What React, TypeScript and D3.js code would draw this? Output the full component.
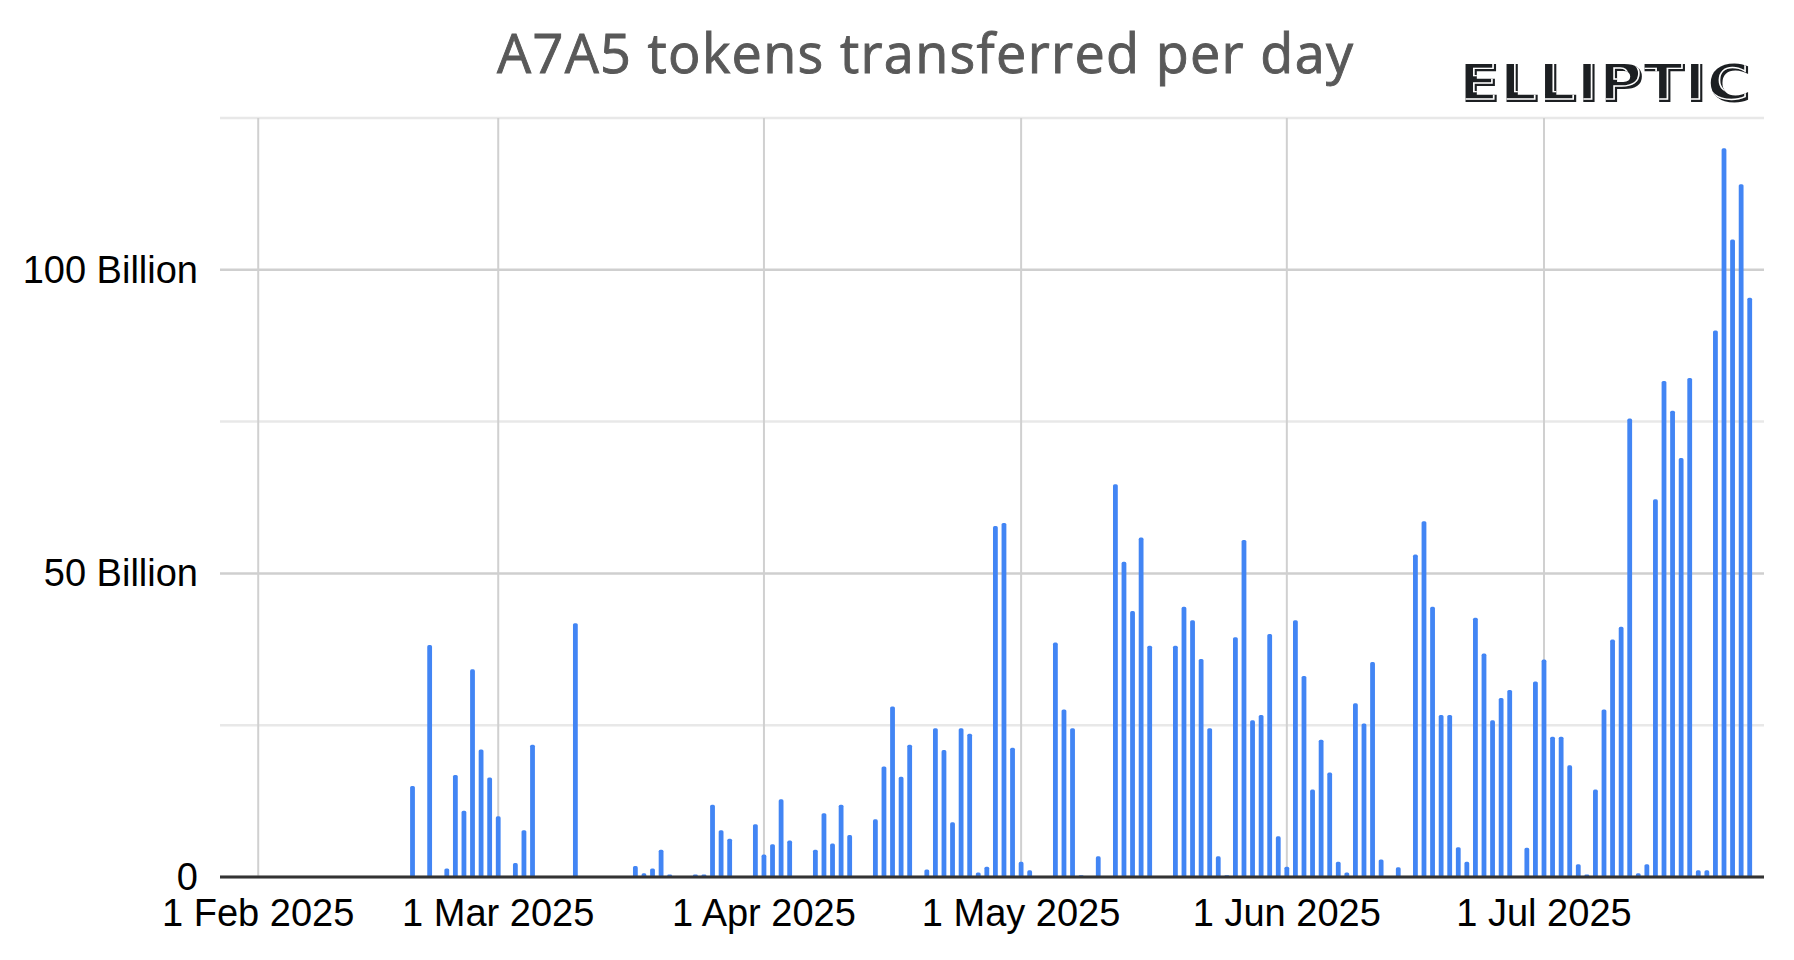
import * as d3 from 'd3'

// daily A7A5 transfers, billions of tokens (days with no bar are left out)
const febDays = [19, 21, 23, 24, 25, 26, 27, 28]
const febValues = [15.0, 38.2, 1.4, 16.8, 10.9, 34.2, 21.0, 16.4]
const marDays = [1, 3, 4, 5, 10, 17, 18, 19, 20, 21, 24, 25, 26, 27, 28, 31]
const marValues = [10.0, 2.3, 7.7, 21.8, 41.8, 1.8, 0.6, 1.4, 4.5, 0.4, 0.4, 0.4, 11.9, 7.7, 6.3, 8.7]
const aprDays = [1, 2, 3, 4, 7, 8, 9, 10, 11, 14, 15, 16, 17, 18, 20, 21, 22, 23, 24, 25, 26, 27, 28, 29, 30]
const aprValues = [3.7, 5.4, 12.8, 6.0, 4.5, 10.5, 5.5, 11.9, 6.9, 9.5, 18.2, 28.1, 16.5, 21.8, 1.25, 24.5, 20.9, 9.0, 24.5, 23.6, 0.75, 1.7, 57.8, 58.3, 21.3]
const mayDays = [1, 2, 5, 6, 7, 8, 10, 12, 13, 14, 15, 16, 19, 20, 21, 22, 23, 24, 25, 26, 27, 28, 29, 30, 31]
const mayValues = [2.5, 1.1, 38.6, 27.6, 24.5, 0.3, 3.4, 64.7, 51.9, 43.8, 55.9, 38.1, 38.1, 44.5, 42.3, 35.9, 24.5, 3.4, 0.3, 39.5, 55.5, 25.8, 26.7, 40.0, 6.7]
const junDays = [1, 2, 3, 4, 5, 6, 7, 8, 9, 10, 11, 12, 14, 16, 17, 18, 19, 20, 21, 22, 23, 24, 25, 26, 27, 29, 30]
const junValues = [1.7, 42.3, 33.1, 14.4, 22.6, 17.2, 2.5, 0.75, 28.6, 25.3, 35.4, 2.9, 1.6, 53.1, 58.6, 44.5, 26.7, 26.7, 4.9, 2.5, 42.7, 36.8, 25.8, 29.5, 30.8, 4.8, 32.2]
const julDays = [1, 2, 3, 4, 5, 6, 7, 8, 9, 10, 11, 12, 13, 14, 15, 16, 17, 18, 19, 20, 21, 22, 23, 24, 25]
const julValues = [35.8, 23.1, 23.1, 18.4, 2.1, 0.4, 14.4, 27.6, 39.1, 41.2, 75.5, 0.6, 2.1, 62.2, 81.7, 76.8, 69.0, 82.2, 1.1, 1.1, 90.0, 120.0, 105.0, 114.1, 95.4]

const yTicks = [0, 25, 50, 75, 100, 125]
const yLabelled = [0, 50, 100]

const months: [number, number[], number[]][] = [
  [1, febDays, febValues],
  [2, marDays, marValues],
  [3, aprDays, aprValues],
  [4, mayDays, mayValues],
  [5, junDays, junValues],
  [6, julDays, julValues],
]

const data = months.flatMap(([m, days, vals]) =>
  days.map((d, i) => ({ date: new Date(2025, m, d), value: vals[i] }))
)

const W = 1794
const H = 960
const plot = { left: 220, right: 1764, top: 118, bottom: 877 }

export default function App() {
  const x = d3.scaleTime()
    .domain([new Date(2025, 0, 27, 13), new Date(2025, 6, 26, 16)])
    .range([plot.left, plot.right])

  const y = d3.scaleLinear()
    .domain([0, 125])
    .range([plot.bottom, plot.top])

  const monthTicks = d3.timeMonth.range(new Date(2025, 1, 1), new Date(2025, 6, 2))
  const fmt = d3.timeFormat('%-d %b %Y')

  const barW = 4.8
  const r = 1.6
  const barPath = (d: { date: Date; value: number }) => {
    const cx = x(d.date)
    const x0 = cx - barW / 2
    const x1 = cx + barW / 2
    const top = y(d.value)
    const base = y(0)
    const rr = Math.min(r, (base - top) / 2)
    return `M${x0},${base}V${top + rr}Q${x0},${top} ${x0 + rr},${top}H${x1 - rr}Q${x1},${top} ${x1},${top + rr}V${base}Z`
  }

  const axisFont = '"Liberation Sans", Arial, sans-serif'
  const logoProps = {
    x: 1460,
    y: 102,
    textLength: 292,
    lengthAdjust: 'spacingAndGlyphs',
  }

  return (
    <svg width={W} height={H} style={{ position: 'absolute', left: 0, top: 0, background: '#fff' }}>
      <rect width={W} height={H} fill="#fff" />

      {/* title */}
      <text
        x={497}
        y={73}
        textLength={856}
        lengthAdjust="spacing"
        fill="#595959"
        stroke="#595959"
        strokeWidth={0.9}
        fontFamily='"Open Sans", Lato, sans-serif'
        fontSize={54}
      >
        A7A5 tokens transferred per day
      </text>

      {/* logo */}
      <defs>
        <clipPath id="logoClip">
          <text {...logoProps} fontFamily='"DejaVu Sans", sans-serif' fontWeight="bold" fontSize={52}>
            ELLIPTIC
          </text>
        </clipPath>
      </defs>
      <g fontFamily='"DejaVu Sans", sans-serif' fontWeight="bold" fontSize={52}>
        <text {...logoProps} fill="#1c1f22">ELLIPTIC</text>
        <g clipPath="url(#logoClip)">
          <text
            {...logoProps}
            fill="none"
            stroke="#fff"
            strokeWidth={1.4}
            transform="translate(-3,-3)"
          >
            ELLIPTIC
          </text>
        </g>
      </g>

      {/* horizontal gridlines */}
      {yTicks.map(t => (
        <line
          key={`h${t}`}
          x1={plot.left}
          x2={plot.right}
          y1={y(t)}
          y2={y(t)}
          stroke={yLabelled.includes(t) ? '#cfcfcf' : '#e8e8e8'}
          strokeWidth={2.5}
        />
      ))}

      {/* vertical gridlines */}
      {monthTicks.map(d => (
        <line
          key={`v${+d}`}
          x1={x(d)}
          x2={x(d)}
          y1={plot.top}
          y2={plot.bottom}
          stroke="#d0d0d0"
          strokeWidth={2}
        />
      ))}

      {/* bars */}
      <g fill="#4285F4">
        {data.map(d => (
          <path key={+d.date} d={barPath(d)} />
        ))}
      </g>

      {/* baseline */}
      <line x1={plot.left} x2={plot.right} y1={y(0)} y2={y(0)} stroke="#333" strokeWidth={3} />

      {/* y labels */}
      <g fontFamily={axisFont} fontSize={38} fill="#000" textAnchor="end">
        {yLabelled.map(t => (
          <text key={`yl${t}`} x={198} y={y(t) + 13}>
            {t === 0 ? '0' : `${t} Billion`}
          </text>
        ))}
      </g>

      {/* x labels */}
      <g fontFamily={axisFont} fontSize={38} fill="#000" textAnchor="middle">
        {monthTicks.map(d => (
          <text key={`xl${+d}`} x={x(d)} y={926}>
            {fmt(d)}
          </text>
        ))}
      </g>
    </svg>
  )
}
